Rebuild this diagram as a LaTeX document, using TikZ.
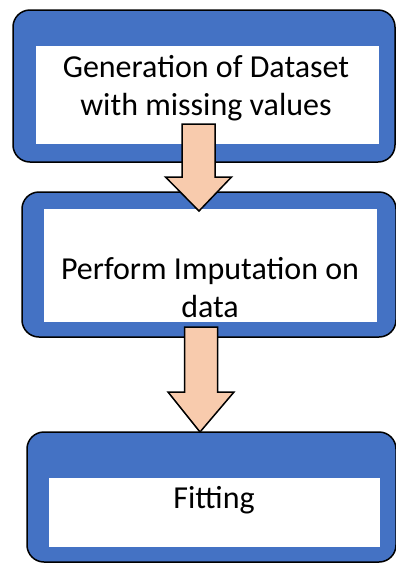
\documentclass[tikz,border=0pt]{standalone}
\usepackage{fontspec}
\setmainfont{Carlito}
\usetikzlibrary{calc}
\definecolor{stepblue}{HTML}{4472C4}
\definecolor{arrowfill}{HTML}{F8CBAD}

% block arrow from start to tip, with head length
\newcommand{\flowarrow}[3]{%
  \draw[arrowbox] let \p1=(#1), \p2=(#2) in
    (\x1-16.5pt,\y1) -- (\x1+16.5pt,\y1) -- (\x1+16.5pt,\y2+#3) -- (\x1+33pt,\y2+#3)
    -- (\x2,\y2) -- (\x1-33pt,\y2+#3) -- (\x1-16.5pt,\y2+#3) -- cycle;}

\begin{document}
\begin{tikzpicture}[x=1pt,y=-1pt]
  \tikzstyle{stepbox} = [rectangle, rounded corners=17pt, draw=black, line width=1.5pt, fill=stepblue, inner sep=0pt]
  \tikzstyle{whitebox} = [rectangle, fill=white, inner sep=0pt]
  \tikzstyle{steptext} = [font=\fontsize{32}{38}\selectfont, align=center, inner sep=0pt]
  \tikzstyle{arrowbox} = [draw=black, line width=1.5pt, fill=arrowfill, line join=miter]
  \useasboundingbox (0,0) rectangle (396,563);
  % first step
  \node (gen) [stepbox, minimum width=382pt, minimum height=152pt] at (204,86) {};
  \node (genin) [whitebox, minimum width=343pt, minimum height=98pt] at (207.5,95) {};
  \node (gentext) [steptext, anchor=base] at (206,115) {Generation of Dataset\\with missing values};
  % second step
  \node (imp) [stepbox, minimum width=374pt, minimum height=145pt] at (209,264.5) {};
  \node (impin) [whitebox, minimum width=333pt, minimum height=113pt] at (210.5,265.5) {};
  \node (imptext) [steptext, anchor=base] at (210,317) {Perform Imputation on\\data};
  % third step
  \node (fit) [stepbox, minimum width=369pt, minimum height=130pt] at (211.5,497) {};
  \node (fitin) [whitebox, minimum width=331pt, minimum height=69pt] at (214.5,512.5) {};
  \node (fittext) [steptext, anchor=base] at (214,508) {Fitting};
  % arrows
  \coordinate (a1s) at (198.5,124);
  \coordinate (a1e) at (199,211);
  \coordinate (a2s) at (201,327);
  \coordinate (a2e) at (200,432);
  \flowarrow{a1s}{a1e}{34pt}
  \flowarrow{a2s}{a2e}{40pt}
\end{tikzpicture}
\end{document}
